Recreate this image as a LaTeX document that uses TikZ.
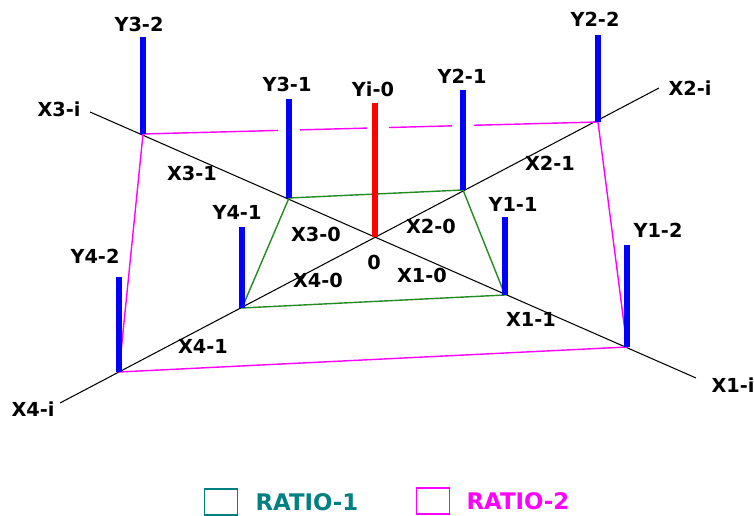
\documentclass[tikz,border=0pt]{standalone}
\usepackage{fontspec}
\setsansfont{DejaVu Sans}
\usepackage{xcolor}
\usetikzlibrary{positioning}
\definecolor{ratioone}{RGB}{34,139,34}
\definecolor{legendteal}{RGB}{0,128,128}
\definecolor{ratiotwo}{RGB}{255,0,255}

\begin{document}
\begin{tikzpicture}[
  x=0.02cm, y=-0.02cm,
  every node/.style={font=\sffamily\bfseries\fontsize{11}{13}\selectfont,
                     inner sep=0pt},
  axis/.style   ={draw=black, line width=0.6pt},
  ybar/.style   ={draw=blue, line width=3.5pt},
  ybarzero/.style={draw=red, line width=3.5pt},
  rone/.style   ={draw=ratioone, line width=0.8pt},
  rtwo/.style   ={draw=ratiotwo, line width=0.8pt},
  gap/.style    ={draw=white, line width=0.44cm},
  legbox/.style ={draw, line width=0.8pt, minimum width=0.66cm,
                  minimum height=0.52cm},
  legtext/.style={font=\sffamily\bfseries\fontsize{13}{15}\selectfont}
]
\useasboundingbox (0,0) rectangle (754,516);

%% ---- Axes ---------------------------------------------------------
\coordinate (O)   at (375,237);
\coordinate (X3i) at (90,112);
\coordinate (X1i) at (696,378);
\coordinate (X2i) at (659,88);
\coordinate (X4i) at (60,403);
\draw[axis] (X3i) -- (X1i);
\draw[axis] (X4i) -- (X2i);

%% ---- Points on the axes ------------------------------------------
\coordinate (X31) at (289,198);
\coordinate (X32) at (143,134);
\coordinate (X21) at (463,190);
\coordinate (X22) at (598,122);
\coordinate (X11) at (505,295);
\coordinate (X12) at (627,347);
\coordinate (X41) at (242,308);
\coordinate (X42) at (119,372);

%% ---- Ratio quads -------------------------------------------------
\draw[rone] (X31) -- (X21) -- (X11) -- (X41) -- cycle;
\draw[rtwo] (X32) -- (X22) -- (X12) -- (X42) -- cycle;

% breaks in the outer edge behind the bars
\draw[gap] (289,126) -- (289,135);
\draw[gap] (378,124) -- (378,132);
\draw[gap] (463,121) -- (463,130);

%% ---- Bars ----------------------------------------------------------
\coordinate (Y32) at (143,37);
\coordinate (Y31) at (289,99);
\coordinate (Y21) at (463,90);
\coordinate (Y22) at (598,35);
\coordinate (Y11) at (505,217);
\coordinate (Y12) at (627,245);
\coordinate (Y41) at (242,227);
\coordinate (Y42) at (119,277);
\coordinate (Yi0) at (375,103);
\draw[ybar] (X32) -- (Y32);
\draw[ybar] (X31) -- (Y31);
\draw[ybar] (X21) -- (Y21);
\draw[ybar] (X22) -- (Y22);
\draw[ybar] (X11) -- (Y11);
\draw[ybar] (X12) -- (Y12);
\draw[ybar] (X41) -- (Y41);
\draw[ybar] (X42) -- (Y42);
\draw[ybarzero] (O) -- (Yi0);

%% ---- Bar labels --------------------------------------------------
\node (lY32) at (139,24)  {Y3-2};
\node (lY31) at (287,84)  {Y3-1};
\node (lYi0) at (373,89)  {Yi-0};
\node (lY21) at (462,76)  {Y2-1};
\node (lY22) at (595,19)  {Y2-2};
\node (lY11) at (513,204) {Y1-1};
\node (lY12) at (658,230) {Y1-2};
\node (lY41) at (237,212) {Y4-1};
\node (lY42) at (95,256)  {Y4-2};

%% ---- Axis labels -------------------------------------------------
\node (lX3i) at (59,109)  {X3-i};
\node (lX2i) at (690,88)  {X2-i};
\node (lX1i) at (733,385) {X1-i};
\node (lX4i) at (33,409)  {X4-i};
\node (lX31) at (192,173) {X3-1};
\node (lX30) at (316,234) {X3-0};
\node (lX20) at (431,226) {X2-0};
\node (lX21) at (550,163) {X2-1};
\node (lX10) at (422,275) {X1-0};
\node (lX11) at (531,319) {X1-1};
\node (lX40) at (318,280) {X4-0};
\node (lX41) at (203,346) {X4-1};
\node (lO)   at (374,262) {0};

%% ---- Legend --------------------------------------------------------
\node[legbox, draw=legendteal] (boxone) at (221,502) {};
\node[legtext, legendteal, right=0.34cm of boxone] (txtone) {RATIO-1};
\node[legbox, draw=ratiotwo] (boxtwo) at (433,501) {};
\node[legtext, ratiotwo, right=0.32cm of boxtwo] (txttwo) {RATIO-2};

\end{tikzpicture}
\end{document}
